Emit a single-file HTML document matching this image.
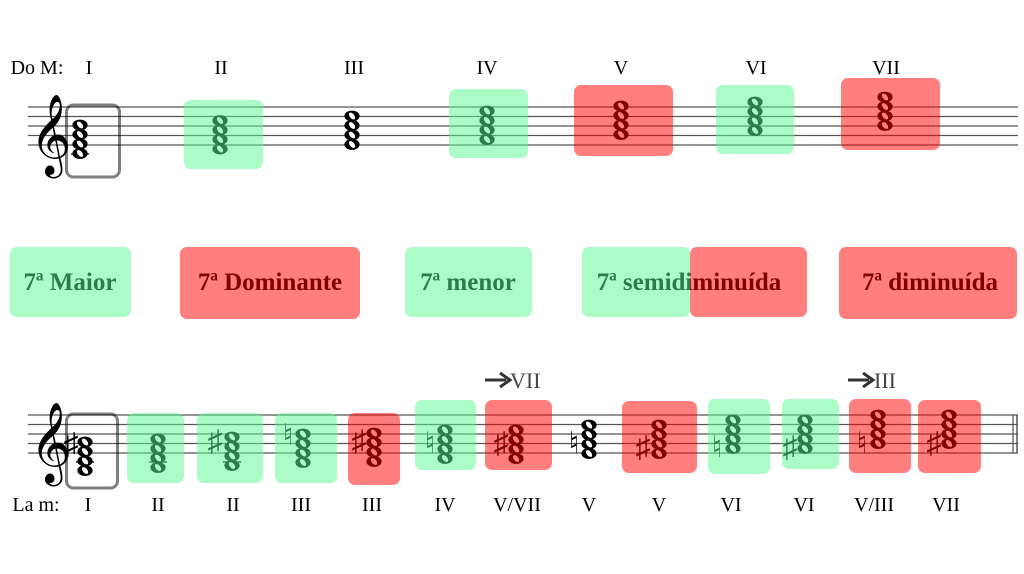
<!DOCTYPE html>
<html><head><meta charset="utf-8"><style>
html,body{margin:0;padding:0;background:#fff;}
svg{display:block;}
text{font-family:"Liberation Serif",serif;}
</style></head><body>
<svg width="1024" height="574" viewBox="0 0 1024 574" xmlns="http://www.w3.org/2000/svg">
<defs>
<g id="nh"><ellipse cx="0" cy="0" rx="7.6" ry="5.4" fill="#000"/><ellipse cx="0" cy="0" rx="2.3" ry="4" fill="#fff" transform="rotate(-40)"/></g>
<g id="ch"><use href="#nh" y="0"/><use href="#nh" y="9.5"/><use href="#nh" y="19"/><use href="#nh" y="28.5"/></g>
</defs>
<g stroke="#555" stroke-width="1.2">
<line x1="28" y1="107" x2="1018" y2="107"/><line x1="28" y1="116.5" x2="1018" y2="116.5"/><line x1="28" y1="126" x2="1018" y2="126"/><line x1="28" y1="135.5" x2="1018" y2="135.5"/><line x1="28" y1="145" x2="1018" y2="145"/>
<line x1="28" y1="415" x2="1018" y2="415"/><line x1="28" y1="424.5" x2="1018" y2="424.5"/><line x1="28" y1="434" x2="1018" y2="434"/><line x1="28" y1="443.5" x2="1018" y2="443.5"/><line x1="28" y1="453" x2="1018" y2="453"/>
<line x1="1013" y1="415" x2="1013" y2="453"/><line x1="1017" y1="415" x2="1017" y2="453" stroke-width="1.5"/>
</g>
<text x="30" y="158" font-size="70" style="font-family:'DejaVu Sans',serif">𝄞</text>
<text x="30" y="466" font-size="70" style="font-family:'DejaVu Sans',serif">𝄞</text>
<g font-size="20" text-anchor="middle">
<text x="37" y="74">Do M:</text><text x="89" y="74">I</text><text x="221" y="74">II</text><text x="354" y="74">III</text><text x="487" y="74">IV</text><text x="621" y="74">V</text><text x="756" y="74">VI</text><text x="886" y="74">VII</text>
</g>
<line x1="71" y1="154" x2="89" y2="154" stroke="#000" stroke-width="1.2"/>
<use href="#ch" x="80" y="125"/>
<use href="#ch" x="220" y="120.5"/>
<use href="#ch" x="352" y="116"/>
<use href="#ch" x="487" y="111"/>
<use href="#ch" x="621" y="106"/>
<use href="#ch" x="755" y="102"/>
<use href="#ch" x="885" y="97"/>
<rect x="66.5" y="105" width="53" height="72" rx="7" fill="none" stroke="rgba(0,0,0,0.5)" stroke-width="3"/>
<rect x="184" y="100" width="79" height="69" rx="7" fill="rgba(90,249,145,0.5)"/>
<rect x="449" y="89" width="79" height="69" rx="7" fill="rgba(90,249,145,0.5)"/>
<rect x="574" y="85" width="99" height="71" rx="7" fill="rgba(255,0,0,0.5)"/>
<rect x="716" y="85" width="78" height="69" rx="7" fill="rgba(90,249,145,0.5)"/>
<rect x="841" y="78" width="99" height="72" rx="7" fill="rgba(255,0,0,0.5)"/>
<g font-size="25" font-weight="bold" text-anchor="middle">
<text x="70" y="290">7ª Maior</text>
<text x="270" y="290">7ª Dominante</text>
<text x="468" y="290">7ª menor</text>
<text x="689" y="290">7ª semidiminuída</text>
<text x="930" y="290">7ª diminuída</text>
</g>
<rect x="10" y="247" width="121" height="70" rx="7" fill="rgba(90,249,145,0.5)"/>
<rect x="180" y="247" width="180" height="72" rx="7" fill="rgba(255,0,0,0.5)"/>
<rect x="405" y="247" width="127" height="70" rx="7" fill="rgba(90,249,145,0.5)"/>
<rect x="582" y="247" width="108" height="70" rx="7" fill="rgba(90,249,145,0.5)"/>
<rect x="690" y="247" width="117" height="70" rx="7" fill="rgba(255,0,0,0.5)"/>
<rect x="839" y="247" width="178" height="72" rx="7" fill="rgba(255,0,0,0.5)"/>
<g font-size="20" text-anchor="middle">
<text x="36" y="511">La m:</text><text x="88" y="511">I</text><text x="158" y="511">II</text><text x="233" y="511">II</text><text x="301" y="511">III</text><text x="372" y="511">III</text><text x="445" y="511">IV</text><text x="517" y="511">V/VII</text><text x="589" y="511">V</text><text x="659" y="511">V</text><text x="731" y="511">VI</text><text x="804" y="511">VI</text><text x="874" y="511">V/III</text><text x="946" y="511">VII</text>
</g>
<g fill="#333" stroke="#333">
<line x1="485" y1="380" x2="506" y2="380" stroke-width="3"/><path d="M500 373 L510 380 L500 387" fill="none" stroke-width="3"/>
<line x1="848" y1="380" x2="869" y2="380" stroke-width="3"/><path d="M863 373 L873 380 L863 387" fill="none" stroke-width="3"/>
</g>
<g font-size="22" fill="#444">
<text x="510" y="388">VII</text><text x="874" y="388">III</text>
</g>
<g stroke="#000" stroke-width="1.2">
<line x1="76" y1="462" x2="94" y2="462"/><line x1="149" y1="462" x2="167" y2="462"/><line x1="223" y1="462" x2="241" y2="462"/>
</g>
<use href="#ch" x="85" y="442"/>
<use href="#ch" x="158" y="439"/>
<use href="#ch" x="232" y="437"/>
<use href="#ch" x="303" y="434"/>
<use href="#ch" x="374" y="433"/>
<use href="#ch" x="445" y="430"/>
<use href="#ch" x="516" y="430"/>
<use href="#ch" x="589" y="425"/>
<use href="#ch" x="659" y="425"/>
<use href="#ch" x="733" y="420"/>
<use href="#ch" x="805" y="420"/>
<use href="#ch" x="878" y="415"/>
<use href="#ch" x="949" y="415"/>
<g font-size="30" style="font-family:'DejaVu Sans',serif" text-anchor="middle">
<text x="71" y="454">♯</text>
<text x="215" y="451">♯</text>
<text x="288" y="445">♮</text>
<text x="359" y="451">♯</text>
<text x="430" y="453">♮</text>
<text x="501" y="453">♯</text>
<text x="574" y="453">♮</text>
<text x="643" y="457">♯</text>
<text x="717" y="457">♮</text>
<text x="790" y="457">♯</text>
<text x="862" y="453">♮</text>
<text x="934" y="453">♯</text>
</g>
<rect x="66.5" y="414" width="51" height="74" rx="7" fill="none" stroke="rgba(0,0,0,0.5)" stroke-width="3"/>
<rect x="127" y="413" width="57" height="70" rx="7" fill="rgba(90,249,145,0.5)"/>
<rect x="197" y="413" width="66" height="70" rx="7" fill="rgba(90,249,145,0.5)"/>
<rect x="275" y="413" width="62" height="70" rx="7" fill="rgba(90,249,145,0.5)"/>
<rect x="348" y="413" width="52" height="72" rx="7" fill="rgba(255,0,0,0.5)"/>
<rect x="415" y="400" width="61" height="70" rx="7" fill="rgba(90,249,145,0.5)"/>
<rect x="485" y="400" width="67" height="70" rx="7" fill="rgba(255,0,0,0.5)"/>
<rect x="622" y="401" width="75" height="72" rx="7" fill="rgba(255,0,0,0.5)"/>
<rect x="708" y="399" width="62" height="75" rx="7" fill="rgba(90,249,145,0.5)"/>
<rect x="782" y="399" width="57" height="70" rx="7" fill="rgba(90,249,145,0.5)"/>
<rect x="849" y="399" width="62" height="74" rx="7" fill="rgba(255,0,0,0.5)"/>
<rect x="918" y="400" width="63" height="73" rx="7" fill="rgba(255,0,0,0.5)"/>
</svg>
</body></html>
